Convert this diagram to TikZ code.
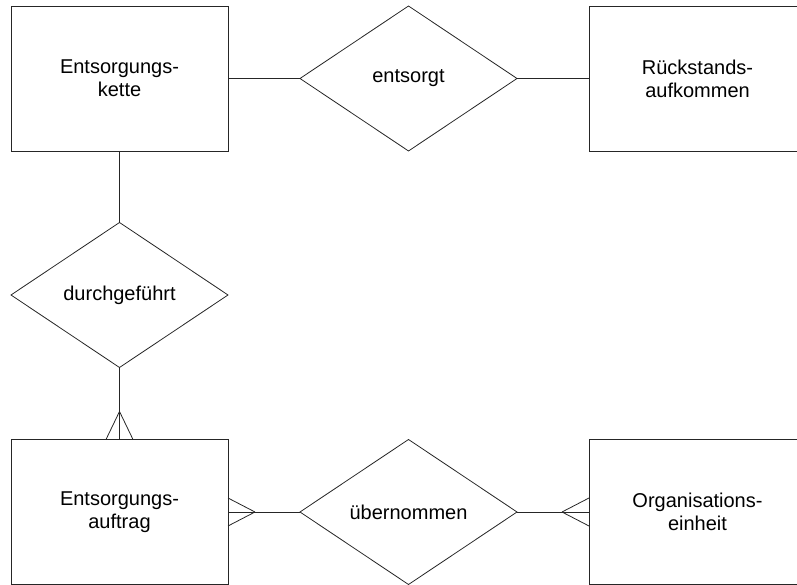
\documentclass[tikz,border=0pt]{standalone}
\usepackage{fontspec}
\setmainfont{Liberation Sans}
\usetikzlibrary{shapes.geometric,calc}

\newcommand{\ermfont}{\fontsize{20}{23}\selectfont}
\tikzset{
  entity/.style={draw=black!85,line width=0.8pt,rectangle,minimum width=217pt,minimum height=145pt,
    inner sep=0pt,outer sep=0pt,align=center,font=\ermfont},
  relship/.style={draw=black!85,line width=0.8pt,diamond,minimum width=217pt,minimum height=145pt,
    inner sep=0pt,outer sep=0pt,font=\ermfont},
  link/.style={line width=0.8pt,draw=black!85}
}

\begin{document}
\begin{tikzpicture}[x=1pt,y=1pt]
            \useasboundingbox (0,0) rectangle (797,585);
            \clip (0,0) rectangle (797,585);
            % entities and relationships
            \node[entity] (kette) at (119.5,506.5) {Entsorgungs-\\kette};
            \node[relship] (entsorgt) at (408.5,506.5) {entsorgt};
            \node[entity] (rueck) at (697.5,506.5) {Rückstands-\\aufkommen};
            \node[relship] (durch) at (119.5,290) {durchgeführt};
            \node[entity] (auftrag) at (119.5,73) {Entsorgungs-\\auftrag};
            \node[relship] (uebern) at (408.5,73) {übernommen};
            \node[entity] (einheit) at (697.5,73) {Organisations-\\einheit};
            % links
            \draw[link] (kette) -- (entsorgt);
            \draw[link] (entsorgt) -- (rueck);
            \draw[link] (kette) -- (durch);
            \draw[link] (durch) -- (auftrag);
            \draw[link] (auftrag) -- (uebern);
            \draw[link] (uebern) -- (einheit);
            % crow's feet
            \foreach \s in {-13.5,13.5}
                \draw[link] ($(auftrag.north)+(0,28)$) -- ($(auftrag.north)+(\s,0)$);
            \foreach \s in {-14,14}
                \draw[link] ($(auftrag.east)+(27,0)$) -- ($(auftrag.east)+(0,\s)$);
            \foreach \s in {-14,14}
                \draw[link] ($(einheit.west)+(-27,0)$) -- ($(einheit.west)+(0,\s)$);
        \end{tikzpicture}
\end{document}
